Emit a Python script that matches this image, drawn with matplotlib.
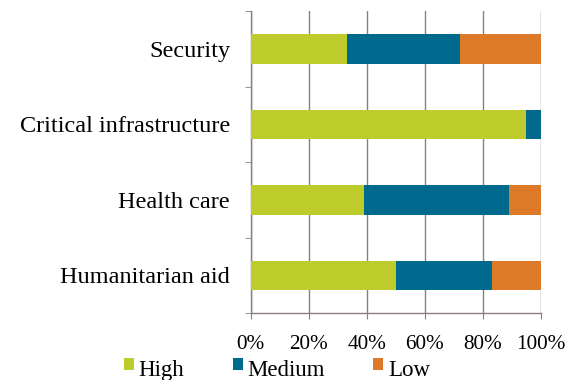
import matplotlib.pyplot as plt
import numpy as np

categories = ['Security', 'Critical infrastructure', 'Health care', 'Humanitarian aid']
high = [33, 95, 39, 50]
medium = [39, 5, 50, 33]
low = [28, 0, 11, 17]
series = ['High', 'Medium', 'Low']
colors = ['#BDCB2B', '#006A8E', '#DD7A2A']
xticks = [0, 20, 40, 60, 80, 100]

plt.rcParams['font.family'] = ['Liberation Serif', 'DejaVu Serif']

fig = plt.figure(figsize=(5.65, 3.8), dpi=100)
ax = fig.add_axes([0.444, 0.176, 0.5135, 0.795])

grid_col = '#8C7E7C'
y = np.arange(len(categories))[::-1]
left = np.zeros(len(categories))
for vals, name, col in zip([high, medium, low], series, colors):
    ax.barh(y, vals, left=left, height=0.39, color=col, label=name, zorder=3)
    left += np.array(vals)

ax.set_xlim(0, 100)
ax.set_ylim(-0.5, len(categories) - 0.5)
ax.set_xticks(xticks)
ax.set_xticklabels([f'{v}%' for v in xticks])
ax.set_yticks(y)
ax.set_yticklabels(categories)
ax.set_yticks(np.arange(-0.5, len(categories)), minor=True)

ax.grid(axis='x', color=grid_col, linewidth=1.0, zorder=0)
for s in ['top', 'right']:
    ax.spines[s].set_visible(False)
for s in ['left', 'bottom']:
    ax.spines[s].set_color(grid_col)
    ax.spines[s].set_linewidth(1.0)

ax.tick_params(axis='x', direction='out', length=4, color=grid_col, pad=12, labelsize=15.3)
ax.tick_params(axis='y', which='major', length=0, pad=15, labelsize=17.5)
ax.tick_params(axis='y', which='minor', direction='out', length=4, color=grid_col)

leg = fig.legend(loc='center', bbox_to_anchor=(0.49, 0.026), ncol=3, frameon=False,
                 fontsize=16.5, handlelength=0.45, handleheight=0.45, handletextpad=0.2,
                 columnspacing=2.1, borderpad=0)
# markers sit raised next to the text, like the original
for p in leg.get_patches():
    p.set_y(p.get_y() + 2.5)

fig.savefig('out.png', dpi=100)
